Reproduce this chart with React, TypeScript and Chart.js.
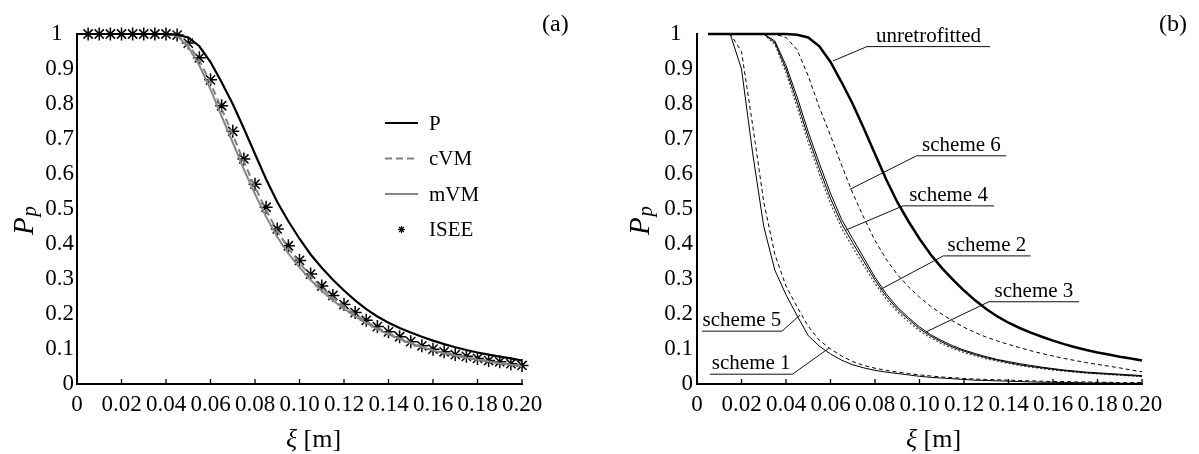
import React, { useEffect, useRef } from 'react';
import { Chart, registerables } from 'chart.js';

Chart.register(...registerables);

const FONT = "'Liberation Serif', 'Times New Roman', serif";

// ---------- panel (a) data ----------
const X_LINES_A = [0, 0.005, 0.01, 0.015, 0.02, 0.025, 0.03, 0.035, 0.04, 0.045, 0.05, 0.055, 0.06, 0.065, 0.07, 0.075, 0.08, 0.085, 0.09, 0.095, 0.1, 0.105, 0.11, 0.115, 0.12, 0.125, 0.13, 0.135, 0.14, 0.145, 0.15, 0.155, 0.16, 0.165, 0.17, 0.175, 0.18, 0.185, 0.19, 0.195, 0.2];
const P_A = [1, 1, 1, 1, 1, 1, 1, 1, 1, 0.998, 0.99, 0.965, 0.92, 0.862, 0.8, 0.73, 0.657, 0.585, 0.52, 0.465, 0.415, 0.37, 0.332, 0.298, 0.267, 0.239, 0.214, 0.193, 0.175, 0.16, 0.147, 0.135, 0.124, 0.114, 0.105, 0.097, 0.09, 0.084, 0.078, 0.073, 0.067];
const CVM_A = [1, 1, 1, 1, 1, 1, 1, 1, 1, 0.996, 0.97, 0.925, 0.86, 0.786, 0.712, 0.635, 0.563, 0.497, 0.437, 0.388, 0.346, 0.308, 0.275, 0.247, 0.222, 0.199, 0.178, 0.16, 0.145, 0.131, 0.118, 0.107, 0.097, 0.089, 0.082, 0.076, 0.07, 0.065, 0.06, 0.056, 0.052];
const MVM_A = [1, 1, 1, 1, 1, 1, 1, 1, 1, 0.995, 0.963, 0.91, 0.842, 0.765, 0.69, 0.613, 0.543, 0.478, 0.42, 0.373, 0.333, 0.297, 0.266, 0.239, 0.215, 0.193, 0.174, 0.157, 0.142, 0.129, 0.116, 0.105, 0.096, 0.088, 0.081, 0.075, 0.069, 0.064, 0.059, 0.055, 0.05];
const X_ISEE = [0.005, 0.01, 0.015, 0.02, 0.025, 0.03, 0.035, 0.04, 0.045, 0.05, 0.055, 0.06, 0.065, 0.07, 0.075, 0.08, 0.085, 0.09, 0.095, 0.1, 0.105, 0.11, 0.115, 0.12, 0.125, 0.13, 0.135, 0.14, 0.145, 0.15, 0.155, 0.16, 0.165, 0.17, 0.175, 0.18, 0.185, 0.19, 0.195, 0.2];
const ISEE_A = [1, 1, 1, 1, 1, 1, 1, 1, 0.997, 0.974, 0.932, 0.869, 0.795, 0.722, 0.643, 0.571, 0.505, 0.443, 0.395, 0.353, 0.314, 0.28, 0.253, 0.227, 0.204, 0.182, 0.164, 0.149, 0.135, 0.121, 0.109, 0.0995, 0.092, 0.084, 0.079, 0.073, 0.067, 0.0635, 0.058, 0.053];

// ---------- panel (b) data ----------
const X_B = [0.005, 0.01, 0.015, 0.02, 0.025, 0.03, 0.035, 0.04, 0.045, 0.05, 0.055, 0.06, 0.065, 0.07, 0.075, 0.08, 0.085, 0.09, 0.095, 0.1, 0.105, 0.11, 0.115, 0.12, 0.125, 0.13, 0.135, 0.14, 0.145, 0.15, 0.155, 0.16, 0.165, 0.17, 0.175, 0.18, 0.185, 0.19, 0.195, 0.2];
const UNRETRO = [1, 1, 1, 1, 1, 1, 1, 1, 0.998, 0.99, 0.965, 0.92, 0.862, 0.8, 0.73, 0.657, 0.585, 0.52, 0.465, 0.415, 0.37, 0.332, 0.298, 0.267, 0.239, 0.214, 0.193, 0.175, 0.16, 0.147, 0.135, 0.124, 0.114, 0.105, 0.097, 0.09, 0.084, 0.078, 0.073, 0.067];
const SCHEME1 = [1, 1, 0.998, 0.9, 0.66, 0.45, 0.325, 0.255, 0.195, 0.138, 0.108, 0.086, 0.068, 0.055, 0.046, 0.039, 0.034, 0.03, 0.026, 0.022, 0.019, 0.017, 0.015, 0.013, 0.011, 0.01, 0.009, 0.008, 0.007, 0.006, 0.005, 0.005, 0.004, 0.004, 0.003, 0.003, 0.003, 0.002, 0.002, 0.002];
const SCHEME5 = [1, 1, 1, 0.95, 0.74, 0.52, 0.37, 0.28, 0.22, 0.165, 0.125, 0.1, 0.08, 0.064, 0.053, 0.045, 0.039, 0.034, 0.03, 0.026, 0.023, 0.02, 0.018, 0.016, 0.014, 0.013, 0.012, 0.011, 0.01, 0.009, 0.008, 0.007, 0.007, 0.006, 0.006, 0.005, 0.005, 0.004, 0.004, 0.004];
const SCHEME4 = [1, 1, 1, 1, 1, 1, 0.98, 0.91, 0.82, 0.72, 0.63, 0.545, 0.47, 0.415, 0.36, 0.305, 0.258, 0.22, 0.19, 0.163, 0.141, 0.124, 0.109, 0.097, 0.087, 0.078, 0.07, 0.064, 0.058, 0.053, 0.048, 0.044, 0.04, 0.037, 0.034, 0.032, 0.03, 0.028, 0.026, 0.024];
const SCHEME2 = [1, 1, 1, 1, 1, 1, 0.975, 0.9, 0.805, 0.705, 0.615, 0.53, 0.458, 0.403, 0.35, 0.297, 0.251, 0.214, 0.185, 0.158, 0.137, 0.12, 0.105, 0.094, 0.084, 0.075, 0.068, 0.061, 0.055, 0.05, 0.046, 0.042, 0.038, 0.035, 0.032, 0.03, 0.028, 0.026, 0.024, 0.022];
const SCHEME3 = [1, 1, 1, 1, 1, 1, 0.97, 0.89, 0.79, 0.69, 0.6, 0.515, 0.445, 0.39, 0.338, 0.287, 0.243, 0.207, 0.178, 0.152, 0.132, 0.115, 0.101, 0.09, 0.08, 0.072, 0.065, 0.059, 0.053, 0.048, 0.044, 0.04, 0.037, 0.034, 0.031, 0.029, 0.027, 0.025, 0.023, 0.021];
const SCHEME6 = [1, 1, 1, 1, 1, 1, 1, 0.99, 0.955, 0.88, 0.79, 0.71, 0.625, 0.545, 0.475, 0.41, 0.357, 0.313, 0.278, 0.248, 0.222, 0.2, 0.18, 0.162, 0.147, 0.134, 0.123, 0.113, 0.104, 0.095, 0.087, 0.08, 0.073, 0.067, 0.061, 0.056, 0.051, 0.046, 0.04, 0.035];

// ---------- axis ticks ----------
const X_MIN = 0;
const X_MAX = 0.2;
const X_STEP = 0.02;
const Y_MIN = 0;
const Y_MAX = 1;
const Y_STEP = 0.1;

// ---------- annotation callouts for panel (b), in data units ----------
const CALLOUTS = [
  { text: 'unretrofitted', from: 0.0764, to: 0.1317, level: 0.964, tx: 0.0611, ty: 0.923 },
  { text: 'scheme 6', from: 0.0987, to: 0.139, level: 0.652, tx: 0.0687, ty: 0.556 },
  { text: 'scheme 4', from: 0.0926, to: 0.1335, level: 0.509, tx: 0.067, ty: 0.44 },
  { text: 'scheme 2', from: 0.1107, to: 0.1499, level: 0.366, tx: 0.0824, ty: 0.27 },
  { text: 'scheme 3', from: 0.1312, to: 0.1717, level: 0.235, tx: 0.103, ty: 0.149 },
  { text: 'scheme 5', from: 0.0022, to: 0.0382, level: 0.151, tx: 0.0463, ty: 0.197 },
  { text: 'scheme 1', from: 0.0058, to: 0.0429, level: 0.028, tx: 0.0592, ty: 0.102 },
];

const pts = (xs: number[], ys: number[]) => xs.map((x, i) => ({ x, y: ys[i] }));

const inwardTicks = {
  id: 'inwardTicks',
  afterDatasetsDraw(chart: any) {
    const sx = chart.scales.x;
    const { ctx } = chart;
    const bottom = chart.chartArea.bottom;
    ctx.save();
    ctx.strokeStyle = '#000';
    ctx.lineWidth = 1.3;
    sx.ticks.forEach((t: any) => {
      const px = sx.getPixelForValue(t.value);
      ctx.beginPath();
      ctx.moveTo(px, bottom);
      ctx.lineTo(px, bottom - 5);
      ctx.stroke();
    });
    ctx.restore();
  },
};

function titlesPlugin(panel: string, yOffset: number, panelDx: number) {
  return {
    id: 'titles',
    afterDraw(chart: any) {
      const { ctx, chartArea: a } = chart;
      ctx.save();
      ctx.fillStyle = '#000';
      ctx.textBaseline = 'alphabetic';
      ctx.textAlign = 'left';
      // x title
      const cx = (a.left + a.right) / 2 + 14;
      ctx.font = `italic 26px ${FONT}`;
      const w1 = ctx.measureText('ξ').width;
      ctx.font = `26px ${FONT}`;
      const w2 = ctx.measureText(' [m]').width;
      const x0 = cx - (w1 + w2) / 2;
      ctx.font = `italic 26px ${FONT}`;
      ctx.fillText('ξ', x0, 447);
      ctx.font = `26px ${FONT}`;
      ctx.fillText(' [m]', x0 + w1, 447);
      // panel label
      ctx.font = `24px ${FONT}`;
      ctx.fillText(panel, a.right + panelDx, 31);
      // y title P_p
      ctx.save();
      const cy = (a.top + a.bottom) / 2 + 12;
      ctx.translate(a.left - yOffset, cy);
      ctx.rotate(-Math.PI / 2);
      ctx.font = `italic 29px ${FONT}`;
      const wp = ctx.measureText('P').width;
      ctx.font = `italic 21px ${FONT}`;
      const ws = ctx.measureText('p').width;
      const start = -(wp + ws) / 2;
      ctx.font = `italic 29px ${FONT}`;
      ctx.fillText('P', start, 0);
      ctx.font = `italic 21px ${FONT}`;
      ctx.fillText('p', start + wp + 1, 3);
      ctx.restore();
      ctx.restore();
    },
  };
}

const legendA = {
  id: 'legendA',
  afterDraw(chart: any) {
    const { ctx, chartArea: a } = chart;
    const x1 = a.left + 308;
    const x2 = a.left + 341;
    const tx = a.left + 352;
    ctx.save();
    ctx.textBaseline = 'middle';
    ctx.textAlign = 'left';
    ctx.font = `21px ${FONT}`;
    chart.data.datasets.forEach((ds: any, i: number) => {
      const y = a.top + 89 + i * 35.5;
      ctx.strokeStyle = ds.borderColor;
      if (ds.showLine === false) {
        ctx.lineWidth = 1.2;
        const r = 3.5;
        ctx.beginPath();
        const cx = (x1 + x2) / 2;
        for (let k = 0; k < 4; k++) {
          const ang = (k * Math.PI) / 4;
          ctx.moveTo(cx - r * Math.cos(ang), y - r * Math.sin(ang));
          ctx.lineTo(cx + r * Math.cos(ang), y + r * Math.sin(ang));
        }
        ctx.stroke();
      } else {
        ctx.lineWidth = ds.borderWidth;
        ctx.setLineDash(ds.borderDash || []);
        ctx.beginPath();
        ctx.moveTo(x1, y);
        ctx.lineTo(x2, y);
        ctx.stroke();
        ctx.setLineDash([]);
      }
      ctx.fillStyle = '#000';
      ctx.fillText(ds.label, tx, y + 1);
    });
    ctx.restore();
  },
};

const calloutsB = {
  id: 'calloutsB',
  afterDraw(chart: any) {
    const { ctx } = chart;
    const sx = chart.scales.x;
    const sy = chart.scales.y;
    ctx.save();
    ctx.strokeStyle = '#111';
    ctx.lineWidth = 1;
    ctx.fillStyle = '#000';
    ctx.font = `21px ${FONT}`;
    ctx.textAlign = 'center';
    ctx.textBaseline = 'alphabetic';
    CALLOUTS.forEach((c) => {
      const ux1 = sx.getPixelForValue(c.from);
      const ux2 = sx.getPixelForValue(c.to);
      const uy = sy.getPixelForValue(c.level);
      const px = sx.getPixelForValue(c.tx);
      const py = sy.getPixelForValue(c.ty);
      const joinX = c.tx < c.from ? ux1 : ux2;
      ctx.beginPath();
      ctx.moveTo(ux1, uy);
      ctx.lineTo(ux2, uy);
      ctx.moveTo(joinX, uy);
      ctx.lineTo(px, py);
      ctx.stroke();
      ctx.fillText(c.text, (ux1 + ux2) / 2, uy - 5);
    });
    ctx.restore();
  },
};

function scales(yWidth: number, yPad: number) {
  return {
    x: {
      type: 'linear',
      min: X_MIN,
      max: X_MAX,
      afterFit: (s: any) => { s.height = 70; },
      ticks: {
        stepSize: X_STEP,
        autoSkip: false,
        maxRotation: 0,
        color: '#000',
        padding: 7,
        font: { family: FONT, size: 23 },
        callback: (v: any) => (Math.abs(v) < 1e-9 ? '0' : Number(v).toFixed(2)),
      },
      grid: { display: true, drawOnChartArea: false, drawTicks: false },
      border: { display: true, color: '#000', width: 2 },
    },
    y: {
      type: 'linear',
      min: Y_MIN,
      max: Y_MAX,
      afterFit: (s: any) => { s.width = yWidth; },
      ticks: {
        stepSize: Y_STEP,
        color: '#000',
        padding: yPad,
        font: { family: FONT, size: 23 },
        callback: (v: any) => {
          const n = Number(v);
          if (Math.abs(n) < 1e-9) return '0';
          if (Math.abs(n - 1) < 1e-9) return '1\u2002';
          return n.toFixed(1);
        },
      },
      grid: { display: true, drawOnChartArea: false, drawTicks: false },
      border: { display: true, color: '#000', width: 2 },
    },
  };
}

function configA(): any {
  return {
    type: 'line',
    data: {
      datasets: [
        { label: 'P', data: pts(X_LINES_A, P_A), borderColor: '#000', borderWidth: 2.2, pointRadius: 0, tension: 0, clip: false },
        { label: 'cVM', data: pts(X_LINES_A, CVM_A), borderColor: '#808080', borderWidth: 2, borderDash: [7, 4], pointRadius: 0, tension: 0, clip: false },
        { label: 'mVM', data: pts(X_LINES_A, MVM_A), borderColor: '#888888', borderWidth: 2, pointRadius: 0, tension: 0, clip: false },
        { label: 'ISEE', data: pts(X_ISEE, ISEE_A), borderColor: '#000', showLine: false, pointStyle: 'star', pointRadius: 6.5, pointBorderWidth: 1.5, pointBorderColor: '#000', clip: false },
      ],
    },
    options: {
      responsive: false,
      animation: false,
      devicePixelRatio: 1,
      layout: { padding: { left: 0, right: 78, top: 34, bottom: 0 } },
      plugins: { legend: { display: false }, tooltip: { enabled: false } },
      scales: scales(77, 3),
    },
    plugins: [inwardTicks, legendA, titlesPlugin('(a)', 44, 20)],
  };
}

function configB(): any {
  return {
    type: 'line',
    data: {
      datasets: [
        { label: 'unretrofitted', data: pts(X_B, UNRETRO), borderColor: '#000', borderWidth: 2.5, pointRadius: 0, tension: 0, clip: false },
        { label: 'scheme 6', data: pts(X_B, SCHEME6), borderColor: '#000', borderWidth: 1, borderDash: [4, 3], pointRadius: 0, tension: 0, clip: false },
        { label: 'scheme 4', data: pts(X_B, SCHEME4), borderColor: '#000', borderWidth: 1, pointRadius: 0, tension: 0, clip: false },
        { label: 'scheme 2', data: pts(X_B, SCHEME2), borderColor: '#000', borderWidth: 1, pointRadius: 0, tension: 0, clip: false },
        { label: 'scheme 3', data: pts(X_B, SCHEME3), borderColor: '#444', borderWidth: 1.2, borderDash: [2, 2], pointRadius: 0, tension: 0, clip: false },
        { label: 'scheme 5', data: pts(X_B, SCHEME5), borderColor: '#000', borderWidth: 1, borderDash: [4, 3], pointRadius: 0, tension: 0, clip: false },
        { label: 'scheme 1', data: pts(X_B, SCHEME1), borderColor: '#000', borderWidth: 1, pointRadius: 0, tension: 0, clip: false },
      ],
    },
    options: {
      responsive: false,
      animation: false,
      devicePixelRatio: 1,
      layout: { padding: { left: 0, right: 57, top: 34, bottom: 0 } },
      plugins: { legend: { display: false }, tooltip: { enabled: false } },
      scales: scales(97, 4),
    },
    plugins: [inwardTicks, calloutsB, titlesPlugin('(b)', 48, 17)],
  };
}

function ChartCanvas({ make, left, width, height }: { make: () => any; left: number; width: number; height: number }) {
  const ref = useRef<HTMLCanvasElement | null>(null);
  useEffect(() => {
    if (!ref.current) return;
    const chart = new Chart(ref.current, make());
    return () => chart.destroy();
  }, []);
  return (
    <canvas
      ref={ref}
      width={width}
      height={height}
      style={{ position: 'absolute', left, top: 0, width, height, display: 'block' }}
    />
  );
}

export default function App() {
  return (
    <div style={{ position: 'absolute', left: 0, top: 0, width: 1199, height: 454, background: '#fff', overflow: 'hidden' }}>
      <ChartCanvas make={configA} left={0} width={600} height={454} />
      <ChartCanvas make={configB} left={600} width={599} height={454} />
    </div>
  );
}
